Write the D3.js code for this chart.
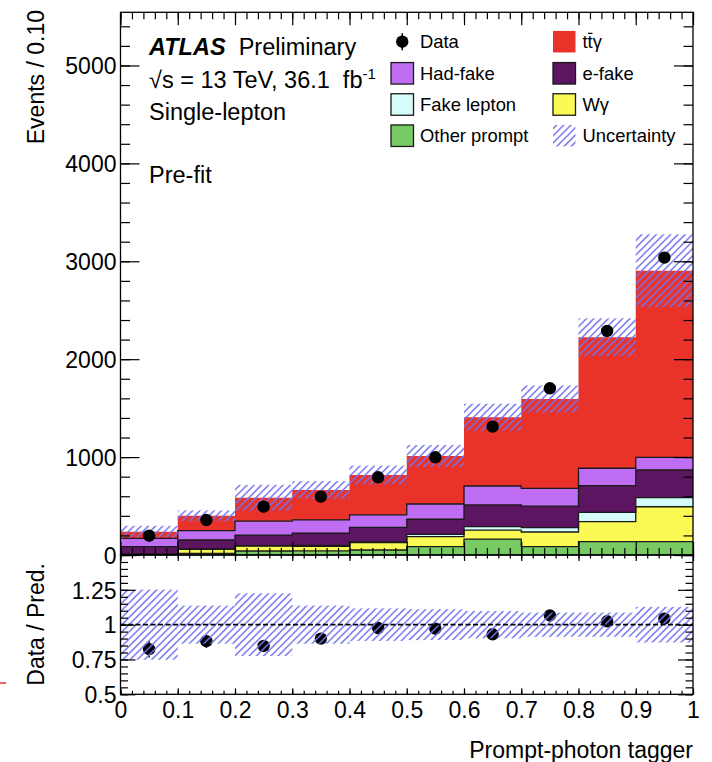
<!DOCTYPE html>
<html><head><meta charset="utf-8">
<script src="https://cdn.jsdelivr.net/npm/d3@7"></script>
<style>
body{margin:0;background:#fff}
svg{display:block}
text{font-family:"Liberation Sans",Arial,Helvetica,sans-serif;fill:#000;white-space:pre}
</style>
</head><body>
<svg id="c" width="712" height="762"></svg>
<script>
// ---------------- data ----------------
const binLow = [0, 0.1, 0.2, 0.3, 0.4, 0.5, 0.6, 0.7, 0.8, 0.9];
const binWidth = 0.1;
const otherPrompt = [3, 17, 41, 42, 51, 85, 163, 85, 136, 136];
const wGamma      = [3, 41, 51, 46, 75, 102, 92, 150, 204, 357];
const fakeLepton  = [2, 2, 3, 10, 7, 24, 34, 44, 96, 92];
const eFake       = [77, 93, 109, 124, 150, 154, 222, 221, 272, 283];
const hadFake     = [85, 95, 143, 136, 126, 156, 194, 181, 178, 130];
const ttGamma     = [68, 153, 238, 306, 408, 490, 702, 912, 1338, 1906];
const dataCounts  = [197, 357, 493, 596, 794, 998, 1311, 1703, 2288, 3037];
const ratioValues = [0.824, 0.881, 0.847, 0.900, 0.976, 0.971, 0.931, 1.066, 1.024, 1.043];
const uncRel      = [0.252, 0.137, 0.225, 0.137, 0.117, 0.111, 0.098, 0.087, 0.087, 0.128];

const mainYTicks = [0, 1000, 2000, 3000, 4000, 5000];
const mainYLabels = ["0", "1000", "2000", "3000", "4000", "5000"];
const ratioYTicks = [0.5, 0.75, 1, 1.25, 1.5];
const ratioYLabels = ["0.5", "0.75", "1", "1.25", ""];
const xTicks = [0, 0.1, 0.2, 0.3, 0.4, 0.5, 0.6, 0.7, 0.8, 0.9, 1];
const xLabels = ["0", "0.1", "0.2", "0.3", "0.4", "0.5", "0.6", "0.7", "0.8", "0.9", "1"];

const keys = ["otherPrompt", "wGamma", "fakeLepton", "eFake", "hadFake", "ttGamma"];
const series = {otherPrompt, wGamma, fakeLepton, eFake, hadFake, ttGamma};
const colors = {
  ttGamma: "#e8322a", hadFake: "#bf6ef3", eFake: "#5c1560",
  fakeLepton: "#d5fbfb", wGamma: "#fbfa55", otherPrompt: "#78cb63"
};

// ---------------- layout ----------------
const svg = d3.select("#c");
const L = 120.5, R = 693;
const mainTop = 12.3, mainBot = 555, ratTop = 555, ratBot = 694.3;
const x = d3.scaleLinear().domain([0, 1]).range([L, R]);
const y = d3.scaleLinear().domain([0, 5543]).range([mainBot, mainTop]);
const yr = d3.scaleLinear().domain([0.5, 1.5]).range([ratBot, ratTop]);

const defs = svg.append("defs");
const pat = defs.append("pattern").attr("id", "hatch")
  .attr("patternUnits", "userSpaceOnUse").attr("width", 5.1).attr("height", 5.1)
  .attr("patternTransform", "rotate(45)");
pat.append("line").attr("x1", 2.55).attr("y1", 0).attr("x2", 2.55).attr("y2", 5.1)
  .attr("stroke", "#7272f0").attr("stroke-width", 1.45);
defs.append("clipPath").attr("id", "clipMain").append("rect")
  .attr("x", L).attr("y", mainTop).attr("width", R - L).attr("height", mainBot - mainTop);
defs.append("clipPath").attr("id", "clipRat").append("rect")
  .attr("x", L).attr("y", ratTop).attr("width", R - L).attr("height", ratBot - ratTop);

// ---------------- main stack ----------------
const rows = binLow.map((b, i) => {
  const r = {};
  keys.forEach(k => r[k] = series[k][i]);
  return r;
});
const stacked = d3.stack().keys(keys)(rows);
const total = rows.map(r => keys.reduce((s, k) => s + r[k], 0));

const gMain = svg.append("g").attr("clip-path", "url(#clipMain)");
const area = d3.area().x(p => x(p[0])).y0(p => y(p[1])).y1(p => y(p[2]));
const topLine = d3.line().x(p => x(p[0])).y(p => y(p[2]));
const stepPts = layer => {
  const pts = [];
  layer.forEach((d, i) => {
    pts.push([binLow[i], d[0], d[1]]);
    pts.push([binLow[i] + binWidth, d[0], d[1]]);
  });
  return pts;
};
stacked.forEach(layer => {
  gMain.append("path").attr("d", area(stepPts(layer))).attr("fill", colors[layer.key]).attr("stroke", "none");
});
stacked.forEach(layer => {
  if (layer.key === "ttGamma") return;
  gMain.append("path").attr("d", topLine(stepPts(layer))).attr("fill", "none")
    .attr("stroke", "#1a1a1a").attr("stroke-width", 1.3);
});
// uncertainty band (main)
gMain.selectAll("rect.unc").data(binLow).enter().append("rect")
  .attr("x", d => x(d)).attr("width", d => x(d + binWidth) - x(d))
  .attr("y", (d, i) => y(total[i] * (1 + uncRel[i])))
  .attr("height", (d, i) => y(total[i] * (1 - uncRel[i])) - y(total[i] * (1 + uncRel[i])))
  .attr("fill", "url(#hatch)");
// data points (main)
binLow.forEach((b, i) => {
  const cx = x(b + binWidth / 2), e = Math.sqrt(dataCounts[i]);
  gMain.append("line").attr("x1", cx).attr("x2", cx)
    .attr("y1", y(dataCounts[i] - e)).attr("y2", y(dataCounts[i] + e))
    .attr("stroke", "#000").attr("stroke-width", 1.5);
  gMain.append("circle").attr("cx", cx).attr("cy", y(dataCounts[i])).attr("r", 6.2).attr("fill", "#000");
});

// ---------------- ratio ----------------
const gRat = svg.append("g").attr("clip-path", "url(#clipRat)");
binLow.forEach((b, i) => {
  const cx = x(b + binWidth / 2), e = Math.sqrt(dataCounts[i]) / total[i];
  gRat.append("line").attr("x1", cx).attr("x2", cx)
    .attr("y1", yr(ratioValues[i] - e)).attr("y2", yr(ratioValues[i] + e))
    .attr("stroke", "#000").attr("stroke-width", 1.5);
  gRat.append("circle").attr("cx", cx).attr("cy", yr(ratioValues[i])).attr("r", 6.2).attr("fill", "#000");
});
gRat.selectAll("rect.unc").data(binLow).enter().append("rect")
  .attr("x", d => x(d)).attr("width", d => x(d + binWidth) - x(d))
  .attr("y", (d, i) => yr(1 + uncRel[i]))
  .attr("height", (d, i) => yr(1 - uncRel[i]) - yr(1 + uncRel[i]))
  .attr("fill", "url(#hatch)");
gRat.append("line").attr("x1", L).attr("x2", R).attr("y1", yr(1)).attr("y2", yr(1))
  .attr("stroke", "#000").attr("stroke-width", 1.6).attr("stroke-dasharray", "5,2.5");

// ---------------- axes ----------------
const FS = 23;
function axis(gen, tr, vals, size, labels, pad) {
  const a = gen.tickValues(vals).tickSize(size).tickPadding(pad || 4)
    .tickFormat((d, i) => labels ? labels[i] : "");
  const g = svg.append("g").attr("transform", tr).call(a);
  g.select(".domain").remove();
  g.selectAll("line").attr("stroke", "#000").attr("stroke-width", 1.2);
  g.selectAll("text").style("font-size", FS + "px").style("font-family", '"Liberation Sans",Arial,sans-serif').attr("fill", "#000");
  return g;
}
const mainMinY = d3.range(0, 5543, 200);
const ratMinY = d3.range(0.5, 1.5001, 0.05);
const minX = d3.range(0, 1.0001, 0.02);
// main y
axis(d3.axisLeft(y), `translate(${L},0)`, mainMinY, -9.5, null);
const gy = axis(d3.axisLeft(y), `translate(${L},0)`, mainYTicks, -19, mainYLabels, 4);
gy.selectAll("text").attr("dy", "0.36em");
axis(d3.axisRight(y), `translate(${R},0)`, mainMinY, -9.5, null);
axis(d3.axisRight(y), `translate(${R},0)`, mainYTicks, -19, null);
// main x (top & bottom)
axis(d3.axisTop(x), `translate(0,${mainTop})`, minX, -7, null);
axis(d3.axisTop(x), `translate(0,${mainTop})`, xTicks, -13, null);
axis(d3.axisBottom(x), `translate(0,${mainBot})`, minX, -7, null);
axis(d3.axisBottom(x), `translate(0,${mainBot})`, xTicks, -13, null);
// ratio y
axis(d3.axisLeft(yr), `translate(${L},0)`, ratMinY, -7.5, null);
const gry = axis(d3.axisLeft(yr), `translate(${L},0)`, ratioYTicks, -15, ratioYLabels, 4);
gry.selectAll("text").attr("dy", "0.36em");
axis(d3.axisRight(yr), `translate(${R},0)`, ratMinY, -7.5, null);
axis(d3.axisRight(yr), `translate(${R},0)`, ratioYTicks, -15, null);
// ratio x
axis(d3.axisTop(x), `translate(0,${ratTop})`, minX, -3.5, null);
axis(d3.axisTop(x), `translate(0,${ratTop})`, xTicks, -6, null);
axis(d3.axisBottom(x), `translate(0,${ratBot})`, minX, -3.5, null);
const gx = axis(d3.axisBottom(x), `translate(0,${ratBot})`, xTicks, -6, xLabels, 7);
gx.selectAll("text").attr("dy", "0.71em");

// frames
svg.append("rect").attr("x", L).attr("y", mainTop).attr("width", R - L).attr("height", mainBot - mainTop)
  .attr("fill", "none").attr("stroke", "#000").attr("stroke-width", 1.3);
svg.append("rect").attr("x", L).attr("y", ratTop).attr("width", R - L).attr("height", ratBot - ratTop)
  .attr("fill", "none").attr("stroke", "#000").attr("stroke-width", 1.3);

// axis titles
svg.append("text").attr("transform", "translate(43.5,10) rotate(-90)").attr("text-anchor", "end")
  .style("font-size", FS + "px").text("Events / 0.10");
svg.append("text").attr("transform", "translate(43.5,563) rotate(-90)").attr("text-anchor", "end")
  .style("font-size", FS + "px").text("Data / Pred.");
svg.append("text").attr("x", R).attr("y", 758).attr("text-anchor", "end")
  .style("font-size", FS + "px").text("Prompt-photon tagger");

// small red mark at left edge
svg.append("line").attr("x1", 0).attr("x2", 6).attr("y1", 683).attr("y2", 683)
  .attr("stroke", "#e03030").attr("stroke-width", 1.5);

// ---------------- labels ----------------
const lab = svg.append("g");
const t1 = lab.append("text").attr("x", 149).attr("y", 55).style("font-size", "23.5px");
t1.append("tspan").style("font-weight", "bold").style("font-style", "italic").text("ATLAS");
t1.append("tspan").text("  Preliminary");
const t2 = lab.append("text").attr("x", 149).attr("y", 88).style("font-size", "23.5px");
t2.append("tspan").text("\u221As = 13 TeV, 36.1  fb");
t2.append("tspan").attr("dy", -9).style("font-size", "15px").text("-1");
lab.append("text").attr("x", 149).attr("y", 119.5).style("font-size", "23.5px").text("Single-lepton");
lab.append("text").attr("x", 149).attr("y", 183).style("font-size", "23.5px").text("Pre-fit");

// ---------------- legend ----------------
const LFS = 18.4;
const col1Box = 391, col2Box = 553, boxW = 22.5, boxH = 21.5;
const rowC = [41.7, 73.3, 104.5, 135.7];
const leg = svg.append("g");
function legText(xp, row, str) {
  return leg.append("text").attr("x", xp).attr("y", rowC[row] + 6.7).style("font-size", LFS + "px").text(str);
}
function legBox(xp, row, fill, border) {
  leg.append("rect").attr("x", xp).attr("y", rowC[row] - boxH / 2).attr("width", boxW).attr("height", boxH)
    .attr("fill", fill).attr("stroke", border ? "#1a1a1a" : "none").attr("stroke-width", 1.3);
}
// Data
leg.append("line").attr("x1", col1Box + boxW / 2).attr("x2", col1Box + boxW / 2)
  .attr("y1", rowC[0] - 8.5).attr("y2", rowC[0] + 8.5).attr("stroke", "#000").attr("stroke-width", 1.5);
leg.append("circle").attr("cx", col1Box + boxW / 2).attr("cy", rowC[0]).attr("r", 6.2).attr("fill", "#000");
legText(420, 0, "Data");
legBox(col1Box, 1, colors.hadFake, true); legText(420, 1, "Had-fake");
legBox(col1Box, 2, colors.fakeLepton, true); legText(420, 2, "Fake lepton");
legBox(col1Box, 3, colors.otherPrompt, true); legText(420, 3, "Other prompt");
legBox(col2Box, 0, colors.ttGamma, false);
const tt = legText(582.5, 0, "tt\u03B3");
const ttNode = tt.node();
const tx0 = 582.5 + ttNode.getSubStringLength(0, 1), tw = ttNode.getSubStringLength(1, 1);
leg.append("line").attr("x1", tx0 + 0.5).attr("x2", tx0 + tw - 0.3)
  .attr("y1", rowC[0] - 8.3).attr("y2", rowC[0] - 8.3).attr("stroke", "#000").attr("stroke-width", 1.3);
legBox(col2Box, 1, colors.eFake, true); legText(582.5, 1, "e-fake");
legBox(col2Box, 2, colors.wGamma, true); legText(582.5, 2, "W\u03B3");
legBox(col2Box, 3, "url(#hatch)", false); legText(582.5, 3, "Uncertainty");
</script>
</body></html>
